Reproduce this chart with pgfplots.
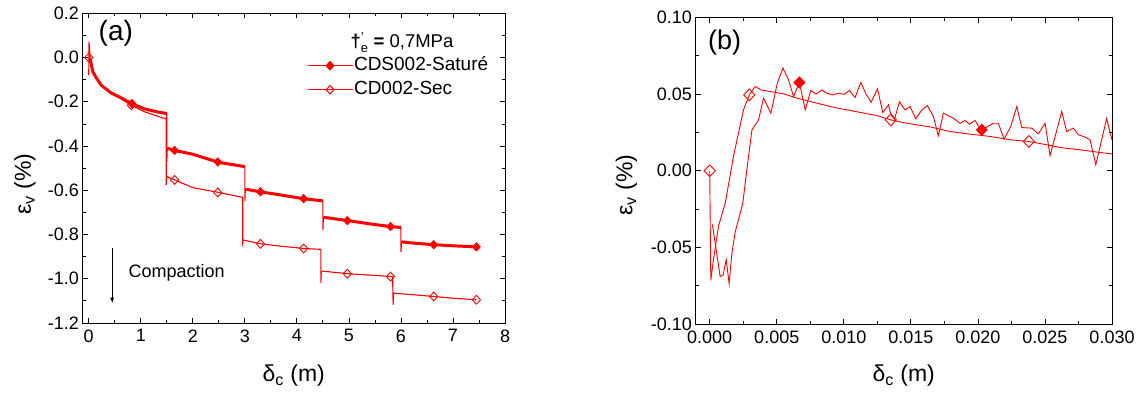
\documentclass[border=0pt]{standalone}
\usepackage{amsmath}
\usepackage{pgfplots}
\usepackage{pgfplotstable}
\pgfplotsset{compat=1.18}
\usepackage{fontspec}
\setmainfont{Liberation Sans}
\definecolor{cred}{RGB}{255,0,0}

\pgfplotstableread{
x y
0 -0.08
0.006 0.07
0.03 -0.01
0.08 -0.065
0.14 -0.09
0.24 -0.125
0.43 -0.16
0.62 -0.182
0.82 -0.208
1.07 -0.232
1.32 -0.246
1.5 -0.253
1.5 -0.47
1.51 -0.41
1.65 -0.42
2.0 -0.437
2.5 -0.474
3.0 -0.493
3.0 -0.65
3.01 -0.595
3.3 -0.607
3.6 -0.618
4.13 -0.638
4.5 -0.648
4.5 -0.78
4.51 -0.722
4.97 -0.737
5.5 -0.755
5.8 -0.764
6.0 -0.768
6.0 -0.88
6.01 -0.833
6.2 -0.838
6.63 -0.846
7.0 -0.851
7.45 -0.856
}\satA
\pgfplotstableread{
x y
0.03 -0.01
0.08 -0.065
0.14 -0.09
0.24 -0.125
0.43 -0.16
0.62 -0.182
0.82 -0.208
1.07 -0.232
1.32 -0.246
1.5 -0.253
nan nan
1.51 -0.41
1.65 -0.42
2.0 -0.437
2.5 -0.474
3.0 -0.493
nan nan
3.01 -0.595
3.3 -0.607
3.6 -0.618
4.13 -0.638
4.5 -0.648
nan nan
4.51 -0.722
4.97 -0.737
5.5 -0.755
5.8 -0.764
6.0 -0.768
nan nan
6.01 -0.833
6.2 -0.838
6.63 -0.846
7.0 -0.851
7.45 -0.856
}\satAband
\pgfplotstableread{
x y
0 0
0.03 -0.02
0.08 -0.063
0.14 -0.09
0.24 -0.125
0.43 -0.162
0.62 -0.186
0.82 -0.216
1.07 -0.245
1.32 -0.265
1.49 -0.278
1.49 -0.575
1.5 -0.538
1.65 -0.553
2.0 -0.588
2.5 -0.61
2.96 -0.632
2.96 -0.835
2.97 -0.825
3.3 -0.842
3.7 -0.853
4.13 -0.863
4.46 -0.867
4.46 -1.02
4.47 -0.965
4.97 -0.977
5.5 -0.985
5.84 -0.99
5.85 -1.118
5.86 -1.065
6.63 -1.08
7.0 -1.088
7.45 -1.095
}\dryA
\pgfplotstableread{
x y
0.83 -0.208
1.65 -0.42
2.48 -0.472
3.3 -0.607
4.13 -0.638
4.97 -0.737
5.8 -0.764
6.63 -0.846
7.45 -0.856
}\satAmk
\pgfplotstableread{
x y
0 0
0.82 -0.216
1.65 -0.553
2.48 -0.61
3.3 -0.842
4.13 -0.863
4.97 -0.977
5.8 -0.99
6.63 -1.08
7.45 -1.095
}\dryAmk

\pgfplotstableread{
x y
0 0
0.00008 -0.0715
0.00028 -0.058
0.00066 -0.036
0.00116 -0.021
0.00177 0.0093
0.00252 0.0398
0.00295 0.0495
0.0034 0.055
0.0038 0.0528
0.0045 0.0517
0.0055 0.0502
0.0065 0.0474
0.0075 0.0452
0.0085 0.043
0.0095 0.0409
0.0105 0.0393
0.0115 0.0376
0.0125 0.0359
0.0135 0.0332
0.0144 0.0315
0.0154 0.030
0.0164 0.0287
0.0179 0.0256
0.0194 0.0239
0.0209 0.0224
0.0224 0.0202
0.0238 0.0191
0.0251 0.017
0.0264 0.0148
0.0276 0.0137
0.0291 0.0119
0.030 0.011
}\dryB
\pgfplotstableread{
x y
0.0002 -0.035
0.00078 -0.069
0.001 -0.068
0.00123 -0.058
0.00145 -0.0737
0.00165 -0.054
0.0019 -0.040
0.00247 -0.021
0.00277 0.0007
0.00315 0.0267
0.00364 0.0332
0.00401 0.0474
0.00456 0.0376
0.00505 0.0575
0.00546 0.067
0.00588 0.0593
0.00625 0.0484
0.00669 0.0576
0.00712 0.0397
0.00754 0.0524
0.00794 0.050
0.00836 0.0527
0.00873 0.0506
0.00918 0.0495
0.0096 0.0506
0.01002 0.0498
0.01042 0.0524
0.01084 0.0478
0.01127 0.0576
0.01166 0.050
0.01204 0.0447
0.01251 0.0535
0.01291 0.038
0.01333 0.043
0.01351 0.0365
0.01378 0.0337
0.01415 0.045
0.01457 0.0397
0.01494 0.0419
0.01537 0.0339
0.01582 0.0397
0.01623 0.0425
0.01668 0.0354
0.01705 0.0228
0.01743 0.0376
0.01817 0.0343
0.01867 0.031
0.01904 0.0328
0.01936 0.0304
0.01979 0.0328
0.02003 0.0293
0.02029 0.0267
0.02115 0.031
0.02152 0.031
0.02195 0.0207
0.02245 0.0289
0.0229 0.0419
0.02327 0.0282
0.02401 0.0278
0.02451 0.0241
0.02501 0.031
0.02538 0.0098
0.02625 0.0387
0.02662 0.0256
0.02712 0.0278
0.02749 0.0235
0.02799 0.022
0.02836 0.0202
0.02879 0.0039
0.0296 0.034
0.030 0.020
}\satB
\pgfplotstableread{
x y
0 0
0.00295 0.0495
0.0135 0.0332
0.0238 0.0191
}\dryBmk
\pgfplotstableread{
x y
0.00669 0.0576
0.02029 0.0267
}\satBmk

\pgfplotsset{
  myaxis/.style={
    scale only axis,
    axis line style={line width=0.9pt},
    every tick/.style={black, line width=0.8pt},
    tick align=inside,
    major tick length=5pt, minor tick length=3pt,
    /pgf/number format/assume math mode=true,
    tick label style={font=\fontsize{18}{20}\selectfont},
    label style={font=\fontsize{23}{26}\selectfont},
    xticklabel style={yshift=-3pt},
    clip mode=individual,
  },
}

\begin{document}
\begin{tikzpicture}
\path[use as bounding box] (0pt,0pt) rectangle (1141pt,394pt);

\begin{axis}[myaxis, at={(82.5pt,71pt)}, anchor=south west,
  width=422.5pt, height=309.7pt,
  xmin=-0.12, xmax=8, ymin=-1.2, ymax=0.2,
  xtick={0,1,2,3,4,5,6,7,8}, minor x tick num=1,
  ytick={-1.2,-1,-0.8,-0.6,-0.4,-0.2,0,0.2}, minor y tick num=1,
  yticklabel style={/pgf/number format/.cd, fixed, fixed zerofill, precision=1},
  xlabel={δ\textsubscript{c} (m)},
  ylabel={ε\textsubscript{v} (\%)},
  xlabel style={at={(axis description cs:0.5,-0.19)}, anchor=base},
  ylabel style={at={(axis description cs:-0.136,0.449)}, anchor=center},
  legend style={at={(axis description cs:0.531,0.862)}, anchor=north west,
    draw=none, fill=none, font=\fontsize{19}{21}\selectfont,
    row sep=5pt, inner sep=0pt,
    nodes={inner sep=1pt, text height=13.5pt, text depth=3.5pt, font=\fontsize{19}{21}\selectfont}},
  legend cell align=left,
  legend image code/.code={\draw[mark repeat=2,mark phase=2,#1] plot coordinates {(0pt,0pt)(22.5pt,0pt)(45pt,0pt)};},
]
\addplot[cred, line width=1.1pt, forget plot] table {\dryA};
\addplot[cred, line width=1.1pt, forget plot] table {\satA};
\addplot[cred, line width=3pt, line join=round, unbounded coords=jump, forget plot] table {\satAband};
\addplot[cred, only marks, mark=diamond*, mark size=4.4pt, mark options={xscale=1.25}, forget plot] table {\satAmk};
\addplot[cred, only marks, mark=diamond, mark size=4.4pt, mark options={xscale=1.25, fill=white, line width=0.9pt}, forget plot] table {\dryAmk};
\addlegendimage{cred, line width=1pt, mark=diamond*, mark size=4.2pt, mark options={xscale=1.25}}
\addlegendentry{\fontsize{19}{21}\selectfont CDS002-Saturé}
\addlegendimage{cred, line width=1pt, mark=diamond, mark size=4.2pt, mark options={xscale=1.25, fill=white}}
\addlegendentry{\fontsize{19}{21}\selectfont CD002-Sec}
\node[anchor=west, font=\fontsize{28}{30}\selectfont] at (axis description cs:0.030,0.935) {(a)};
\node[anchor=base west, font=\fontsize{18.5}{20}\selectfont] at (axis description cs:0.626,0.888)
  {\textbf{†}$^{\text{'}}_{\text{e}}$\ \textbf{=} 0,7MPa};
\node[anchor=west, font=\fontsize{18}{20}\selectfont] at (axis cs:0.70,-0.973) {Compaction};
\draw[-latex, line width=0.8pt] (axis cs:0.45,-0.86) -- (axis cs:0.45,-1.109);
\end{axis}

\begin{axis}[myaxis, at={(695.5pt,70pt)}, anchor=south west,
  width=416.5pt, height=306.5pt,
  xmin=-0.00106, xmax=0.03, ymin=-0.1, ymax=0.1,
  xtick={0,0.005,0.01,0.015,0.02,0.025,0.03}, minor x tick num=1,
  ytick={-0.1,-0.05,0,0.05,0.1}, minor y tick num=1,
  scaled x ticks=false, scaled y ticks=false,
  xticklabel style={/pgf/number format/.cd, fixed, fixed zerofill, precision=3},
  yticklabel style={/pgf/number format/.cd, fixed, fixed zerofill, precision=2},
  xlabel={δ\textsubscript{c} (m)},
  ylabel={ε\textsubscript{v} (\%)},
  xlabel style={at={(axis description cs:0.5,-0.188)}, anchor=base},
  ylabel style={at={(axis description cs:-0.166,0.453)}, anchor=center},
]
\addplot[cred, line width=0.9pt] table {\dryB};
\addplot[cred, line width=0.9pt] table {\satB};
\addplot[cred, only marks, mark=diamond*, mark size=5.8pt, mark options={xscale=1.3}] table {\satBmk};
\addplot[cred, only marks, mark=diamond, mark size=5.8pt, mark options={xscale=1.3, fill=white, line width=0.9pt}] table {\dryBmk};
\node[anchor=west, font=\fontsize{27}{30}\selectfont] at (axis description cs:0.022,0.917) {(b)};
\end{axis}
\end{tikzpicture}
\end{document}
